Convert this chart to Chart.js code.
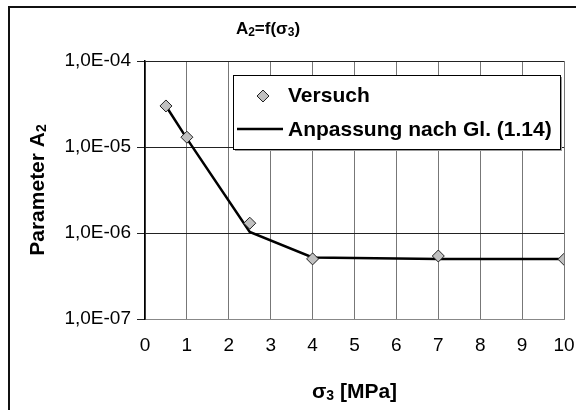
<!DOCTYPE html>
<html>
<head>
<meta charset="utf-8">
<script src="https://cdn.jsdelivr.net/npm/chart.js@4/dist/chart.umd.min.js"></script>
<style>
  html, body { margin: 0; padding: 0; background: #fff; overflow: hidden; }
  #wrap { position: relative; width: 576px; height: 410px; overflow: hidden; }
  #frame { position: absolute; left: 8px; top: 6px; width: 1000px; height: 1000px;
           border-left: 2px solid #111; border-top: 2px solid #111; }
  #myChart { position: absolute; left: 0; top: 0; }
</style>
</head>
<body>
<div id="wrap">
  <div id="frame"></div>
  <canvas id="myChart" width="576" height="410"></canvas>
</div>
<script>
// measured points and fitted curve, sigma_3 in MPa
var sigma3 = [0.5, 1, 2.5, 4, 7, 10];
var versuch = [3.0e-5, 1.3e-5, 1.3e-6, 5.0e-7, 5.4e-7, 4.95e-7];
var anpassung = [3.0e-5, 1.25e-5, 1.03e-6, 5.2e-7, 5.0e-7, 5.0e-7];
var yTicks = [1e-7, 1e-6, 1e-5, 1e-4];
var xTicks = [0, 1, 2, 3, 4, 5, 6, 7, 8, 9, 10];

var seriesLabels = ['Versuch', 'Anpassung nach Gl. (1.14)'];
// texts with subscripts: [text, isSubscript]
var chartTitle = [['A', false], ['2', true], ['=f(σ', false], ['3', true], [')', false]];
var xTitle = [['σ', false], ['3', true], [' [MPa]', false]];
var yTitle = [['Parameter A', false], ['2', true]];

function toPoints(xs, ys) {
    return xs.map(function(x, i) { return {x: x, y: ys[i]}; });
}

// 1,0E-05 style labels
function sciLabel(v) {
    var exp = Math.round(Math.log10(v));
    var sign = exp < 0 ? '-' : '+';
    var e = Math.abs(exp);
    return '1,0E' + sign + (e < 10 ? '0' + e : e);
}

var fontName = "'Liberation Sans', Arial, sans-serif";

// draw a line of text with subscripts, centred on (x, y), optional rotation
function drawRich(ctx, parts, size, x, y, rot) {
    var big = 'bold ' + size + 'px ' + fontName;
    var small = 'bold ' + Math.round(size * 0.68) + 'px ' + fontName;
    var total = 0;
    parts.forEach(function(p) {
        ctx.font = p[1] ? small : big;
        total += ctx.measureText(p[0]).width;
    });
    ctx.save();
    ctx.translate(x, y);
    if (rot) ctx.rotate(rot);
    ctx.fillStyle = '#000';
    ctx.textAlign = 'left';
    ctx.textBaseline = 'alphabetic';
    var cx = -total / 2;
    var base = size * 0.36;
    parts.forEach(function(p) {
        ctx.font = p[1] ? small : big;
        ctx.fillText(p[0], cx, p[1] ? base + size * 0.12 : base);
        cx += ctx.measureText(p[0]).width;
    });
    ctx.restore();
}

// chart title and axis titles
var titlePlugin = {
    id: 'titles',
    afterDraw: function(chart) {
        var ctx = chart.ctx;
        var a = chart.chartArea;
        drawRich(ctx, chartTitle, 17, 268, 28, 0);
        drawRich(ctx, xTitle, 21, (a.left + a.right) / 2, 390, 0);
        drawRich(ctx, yTitle, 21, 36, (a.top + a.bottom) / 2, -Math.PI / 2);
    }
};

// legend box drawn inside the plot area
var boxLegend = {
    id: 'boxLegend',
    afterDraw: function(chart) {
        var ctx = chart.ctx;
        var bx = 233, by = 75, bw = 327, bh = 74;
        ctx.save();
        ctx.fillStyle = '#999';
        ctx.fillRect(bx + 2, by + 2, bw, bh);
        ctx.fillStyle = '#fff';
        ctx.fillRect(bx, by, bw, bh);
        ctx.strokeStyle = '#000';
        ctx.lineWidth = 1;
        ctx.strokeRect(bx + 0.5, by + 0.5, bw, bh);

        var ds = chart.data.datasets;
        // marker entry
        ctx.fillStyle = ds[0].pointBackgroundColor;
        ctx.strokeStyle = ds[0].pointBorderColor;
        ctx.lineWidth = 1;
        ctx.beginPath();
        ctx.moveTo(257, 96); ctx.lineTo(263, 90); ctx.lineTo(269, 96); ctx.lineTo(263, 102);
        ctx.closePath();
        ctx.fill(); ctx.stroke();
        // line entry
        ctx.strokeStyle = ds[1].borderColor;
        ctx.lineWidth = ds[1].borderWidth;
        ctx.beginPath();
        ctx.moveTo(237, 129); ctx.lineTo(283, 129);
        ctx.stroke();

        ctx.fillStyle = '#000';
        ctx.font = 'bold 21px ' + fontName;
        ctx.textAlign = 'left';
        ctx.textBaseline = 'middle';
        ctx.fillText(ds[0].label, 288, 96);
        ctx.fillText(ds[1].label, 288, 130);
        ctx.restore();
    }
};

var ctx = document.getElementById('myChart').getContext('2d');

var myChart = new Chart(ctx, {
    type: 'scatter',
    data: {
        datasets: [{
            label: seriesLabels[0],
            data: toPoints(sigma3, versuch),
            showLine: false,
            pointStyle: 'rectRot',
            pointRadius: 6,
            pointBackgroundColor: '#c0c0c0',
            pointBorderColor: '#222',
            pointBorderWidth: 1
        }, {
            label: seriesLabels[1],
            data: toPoints(sigma3, anpassung),
            showLine: true,
            borderColor: '#000',
            borderWidth: 2.5,
            pointRadius: 0,
            tension: 0
        }]
    },
    options: {
        responsive: false,
        animation: false,
        events: [],
        layout: { padding: { left: 0, top: 61, right: 0, bottom: 0 } },
        plugins: {
            legend: { display: false },
            tooltip: { enabled: false }
        },
        scales: {
            x: {
                type: 'linear',
                min: 0,
                max: 10,
                afterBuildTicks: function(scale) {
                    scale.ticks = xTicks.map(function(v) { return {value: v}; });
                },
                afterFit: function(scale) {
                    scale.height = 91;
                    scale.paddingRight = 12;
                },
                ticks: {
                    color: '#000',
                    font: { family: fontName, size: 19 },
                    padding: 15,
                    maxRotation: 0
                },
                grid: { color: '#777', lineWidth: 1, drawTicks: false },
                border: { color: '#888', width: 1 }
            },
            y: {
                type: 'logarithmic',
                min: 1e-7,
                max: 1e-4,
                afterBuildTicks: function(scale) {
                    scale.ticks = yTicks.map(function(v) { return {value: v}; });
                },
                afterFit: function(scale) { scale.width = 145; },
                ticks: {
                    color: '#000',
                    font: { family: fontName, size: 19 },
                    padding: 6,
                    callback: function(v) { return sciLabel(v); }
                },
                grid: { color: '#222', lineWidth: 1, tickLength: 8 },
                border: { color: '#000', width: 1.5 }
            }
        }
    },
    plugins: [titlePlugin, boxLegend]
});
</script>
</body>
</html>
